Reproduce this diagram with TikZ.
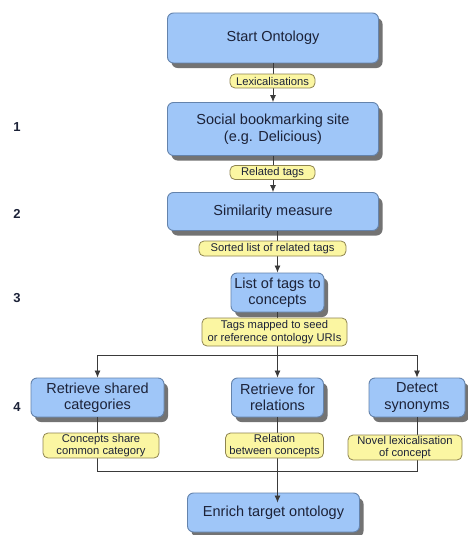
\documentclass[tikz,border=0pt]{standalone}
\usepackage{fontspec}
\setmainfont{Liberation Sans}
\usetikzlibrary{shadows,arrows.meta,calc}
\definecolor{boxfill}{HTML}{9FC6F8}
\definecolor{boxdraw}{HTML}{6483AC}
\definecolor{lblfill}{HTML}{FBF6A2}
\definecolor{lbldraw}{HTML}{8E8450}
\definecolor{txt}{HTML}{1C2238}
\definecolor{linec}{HTML}{3A3A3A}
\begin{document}
\begin{tikzpicture}[x=1pt,y=-1pt,
 box/.style={draw=boxdraw, line width=0.9pt, fill=boxfill, rounded corners=6pt, align=center, inner sep=0pt, text=txt,
   font=\fontsize{14.5}{16.5}\selectfont,
   drop shadow={shadow xshift=4pt, shadow yshift=-5pt, fill=black!55, opacity=1}},
 lbl/.style={draw=lbldraw, line width=0.8pt, fill=lblfill, rounded corners=5pt, align=center, inner sep=0pt, text=txt,
   font=\fontsize{11.2}{12.5}\selectfont},
 conn/.style={draw=linec, line width=0.8pt},
 arr/.style={conn, -{Latex[length=7pt,width=6pt]}},
 num/.style={font=\bfseries\fontsize{13}{13}\selectfont, text=txt}]
\fill[white] (0,0) rectangle (468,535);
\useasboundingbox (0,0) rectangle (468,535);
% boxes
\node[box, minimum width=211pt, minimum height=50pt] (start) at (273,38) {Start Ontology};
\node[box, minimum width=211pt, minimum height=53pt] (social) at (273,129) {Social bookmarking site\\(e.g. Delicious)};
\node[box, minimum width=211pt, minimum height=38pt] (sim) at (273,211.5) {Similarity measure};
\node[box, minimum width=93pt, minimum height=39pt] (list) at (277.5,292.5) {List of tags to\\concepts};
\node[box, minimum width=133pt, minimum height=39pt] (rsc) at (97.5,397.5) {Retrieve shared\\categories};
\node[box, minimum width=92pt, minimum height=39pt] (rfr) at (277.5,397.5) {Retrieve for\\relations};
\node[box, minimum width=96pt, minimum height=39pt] (ds) at (417,397.5) {Detect\\synonyms};
\node[box, minimum width=172pt, minimum height=39pt] (enrich) at (273.5,512.5) {Enrich target ontology};
% connectors
\coordinate (split) at (277.5,355);
\coordinate (merge) at (277.5,471);
\draw[arr] (start.south) -- (social.north);
\draw[arr] (social.south) -- (sim.north);
\draw[arr] (sim.south -| list.north) -- (list.north);
\draw[conn] (list.south) -- (split);
\draw[arr] (split) -| (rsc.north);
\draw[arr] (split) -| (ds.north);
\draw[arr] (split) -- (rfr.north);
\draw[conn] (rsc.south) |- (merge);
\draw[conn] (ds.south) |- (merge);
\draw[conn] (rfr.south) -- (merge);
\draw[arr] (merge) -- ($(merge |- enrich.north)+(0,10)$);
% labels
\node[lbl, minimum width=85pt, minimum height=14pt] (l1) at (272.5,81) {Lexicalisations};
\node[lbl, minimum width=85pt, minimum height=14pt] (l2) at (272.5,172.5) {Related tags};
\node[lbl, minimum width=147pt, minimum height=15pt] (l3) at (272.5,248.5) {Sorted list of related tags};
\node[lbl, minimum width=145pt, minimum height=28pt] (l4) at (274.5,332) {Tags mapped to seed\\or reference ontology URIs};
\node[lbl, minimum width=116pt, minimum height=25pt] (l5) at (101,445.5) {Concepts share\\common category};
\node[lbl, minimum width=98pt, minimum height=25pt] (l6) at (274.5,445.5) {Relation\\between concepts};
\node[lbl, minimum width=114pt, minimum height=25pt] (l7) at (405,447.5) {Novel lexicalisation\\of concept};
% step numbers
\node[num] (n1) at (17,127) {1};
\node[num] (n2) at (17,214) {2};
\node[num] (n3) at (17,298) {3};
\node[num] (n4) at (17,407) {4};
\end{tikzpicture}
\end{document}
